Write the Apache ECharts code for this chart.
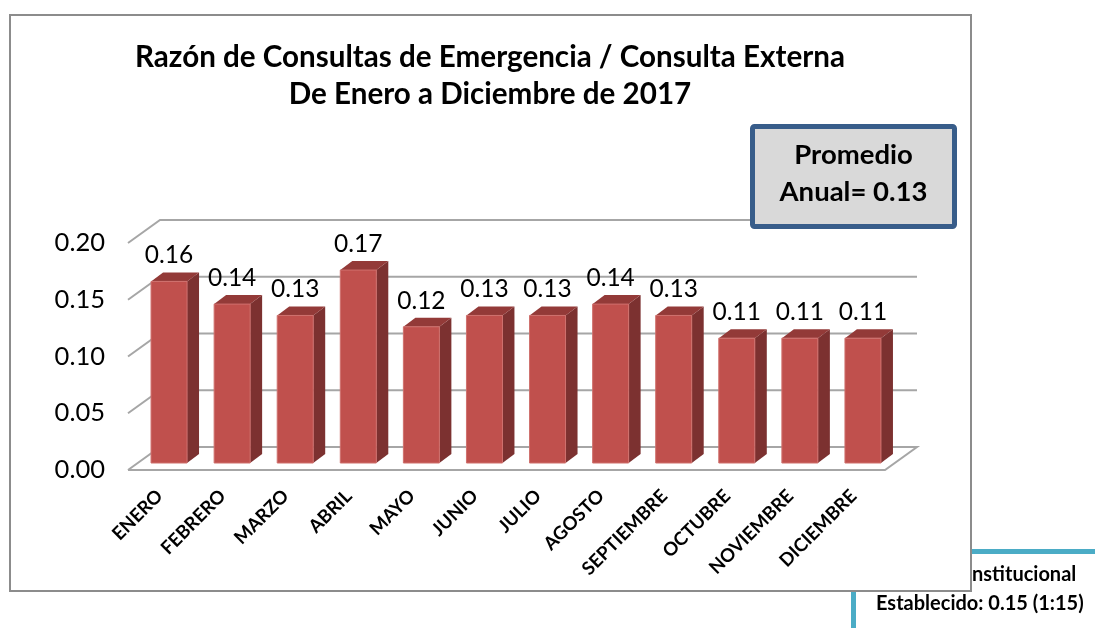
<!DOCTYPE html>
<html><head><meta charset="utf-8">
<style>html,body{margin:0;padding:0;background:#fff}#c{width:1095px;height:628px}</style>
<script src="https://cdn.jsdelivr.net/npm/echarts@6/dist/echarts.min.js"></script>
</head><body><div id="c"></div>
<script>
const months = ['ENERO','FEBRERO','MARZO','ABRIL','MAYO','JUNIO','JULIO','AGOSTO','SEPTIEMBRE','OCTUBRE','NOVIEMBRE','DICIEMBRE'];
const ratios = [0.16,0.14,0.13,0.17,0.12,0.13,0.13,0.14,0.13,0.11,0.11,0.11];
const gridValues = [0,0.05,0.10,0.15,0.20];
const titleText = 'Razón de Consultas de Emergencia / Consulta Externa\nDe Enero a Diciembre de 2017';
const boxText = 'Promedio\nAnual= 0.13';
const noteLine1 = 'nstitucional';
const noteLine2 = 'Establecido: 0.15 (1:15)';

const FONT = 'Lato';
const wallDx = 32, wallDy = 23;
const barOffX = 9.5, barOffY = 7, barW = 36, barDx = 12, barDy = 9;
const GRID = '#A6A6A6';

const chart = echarts.init(document.getElementById('c'), null, {renderer:'canvas'});

function renderWall(params, api){
  const cs = params.coordSys;
  const v = api.value(1);
  const y = api.coord([0, v])[1];
  const x0 = cs.x, x1 = cs.x + cs.width;
  const style = {stroke: GRID, lineWidth: 2, fill: null};
  const pts = [[x0,y],[x0+wallDx,y-wallDy],[x1+wallDx,y-wallDy]];
  if (v === 0) pts.push([x1,y],[x0,y]);
  return {type:'polyline', shape:{points:pts}, style, silent:true};
}
function renderBar(params, api){
  const i = api.value(0), v = api.value(1);
  const cx = api.coord([i, 0])[0] + barOffX;
  const base = api.coord([i, 0])[1] - barOffY;
  const top = api.coord([i, v])[1] - barOffY;
  const l = cx - barW/2, r = cx + barW/2;
  return {type:'group', silent:true, children:[
    {type:'polygon', shape:{points:[[r,top],[r+barDx,top-barDy],[r+barDx,base-barDy],[r,base]]}, style:{fill:'#7C3130'}},
    {type:'polygon', shape:{points:[[l,top],[l+barDx,top-barDy],[r+barDx,top-barDy],[r,top]]}, style:{fill:'#933A38'}},
    {type:'rect', shape:{x:l,y:top,width:barW,height:base-top}, style:{fill:'#C0504D', stroke:'#CF706D', lineWidth:1}},
    {type:'text', x:cx, y:top-26, style:{text:v.toFixed(2), font:'24.5px '+FONT, fill:'#000', align:'center', verticalAlign:'middle'}}
  ]};
}

chart.setOption({
  animation:false,
  backgroundColor:'#fff',
  title:{text:titleText, left:485, top:34, textAlign:'center',
    textStyle:{fontFamily:FONT, fontWeight:'bold', fontSize:29.6, lineHeight:37, color:'#000'}},
  grid:{left:128, top:243, width:757, height:227},
  xAxis:{type:'category', data:months, axisLine:{show:false}, axisTick:{show:false},
    axisLabel:{rotate:45, interval:0, margin:23, fontFamily:FONT, fontWeight:'bold', fontSize:18.5, color:'#000'}},
  yAxis:{type:'value', min:0, max:0.2, interval:0.05, axisLine:{show:false}, axisTick:{show:false}, splitLine:{show:false},
    axisLabel:{margin:23, fontFamily:FONT, fontSize:25.5, color:'#000', formatter:v=>v.toFixed(2)}},
  graphic:[
    {type:'rect', z:-1, shape:{x:971,y:549,width:124,height:5}, style:{fill:'#4BACC6'}},
    {type:'rect', z:-1, shape:{x:851,y:591,width:5,height:37}, style:{fill:'#4BACC6'}},
    {type:'text', z:-1, x:972, y:575, style:{text:noteLine1, font:'bold 20px '+FONT, fill:'#000', align:'left', verticalAlign:'middle'}},
    {type:'text', z:-1, x:876, y:604, style:{text:noteLine2, font:'bold 20px '+FONT, fill:'#000', align:'left', verticalAlign:'middle'}},
    {type:'rect', z:-1, shape:{x:10,y:15,width:961,height:576}, style:{fill:'#fff', stroke:'#8C8C8C', lineWidth:2}},
    {type:'rect', z:100, shape:{x:752.5,y:126.5,width:202,height:100,r:2}, style:{fill:'#D9D9D9', stroke:'#385D8A', lineWidth:5}},
    {type:'text', z:101, x:853.5, y:174, style:{text:boxText, font:'bold 27.5px '+FONT, lineHeight:37, fill:'#000', align:'center', verticalAlign:'middle'}}
  ],
  series:[
    {type:'custom', z:1, silent:true, renderItem:renderWall, data:gridValues.map(v=>[0,v]), encode:{x:0,y:1}, tooltip:{show:false}},
    {type:'custom', z:2, silent:true, renderItem:renderBar, data:ratios.map((v,i)=>[i,v]), encode:{x:0,y:1}}
  ]
});
</script></body></html>
